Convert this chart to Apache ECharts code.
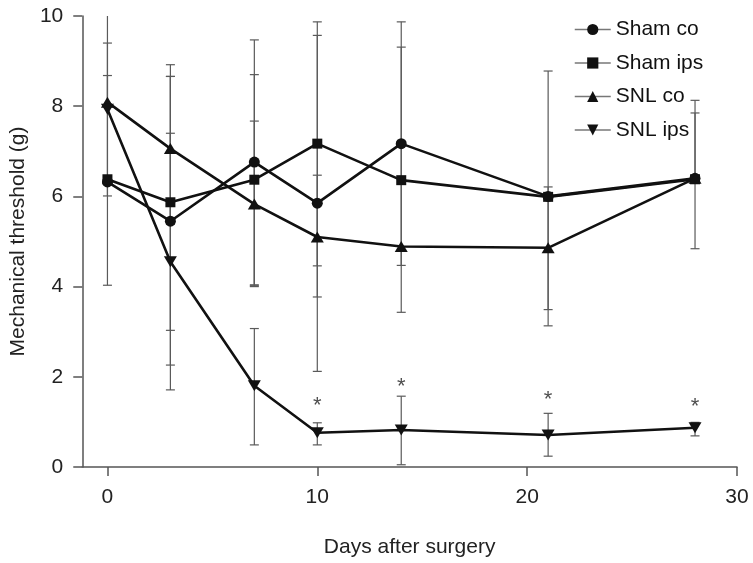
<!DOCTYPE html>
<html>
<head>
<meta charset="utf-8">
<script src="https://cdn.jsdelivr.net/npm/echarts@6/dist/echarts.min.js"></script>
<style>
html,body{margin:0;padding:0;background:#fff;}
#chart{width:753px;height:563px;}
</style>
</head>
<body>
<div id="chart"></div>
<script>
// ---- data ----
const days = [0, 3, 7, 10, 14, 21, 28];
const seriesNames = ['Sham co', 'Sham ips', 'SNL co', 'SNL ips'];

const shamCo  = [6.32, 5.45, 6.76, 5.85, 7.17, 6.00, 6.40];
const shamIps = [6.38, 5.87, 6.37, 7.17, 6.36, 5.99, 6.38];
const snlCo   = [8.09, 7.06, 5.83, 5.10, 4.89, 4.86, 6.40];
const snlIps  = [7.93, 4.55, 1.80, 0.76, 0.82, 0.71, 0.87];

// error bar ends (null = not visible in the reference)
const shamCoHi  = [8.68, 8.66, 9.47, 9.57, 9.87, null, 8.13];
const shamCoLo  = [4.03, 2.26, 4.02, 2.12, 4.47, null, null];
const shamIpsHi = [null, 8.66, 8.70, 9.87, 9.31, 8.78, 7.85];
const shamIpsLo = [null, 3.03, 4.04, 4.46, 3.43, 3.13, 4.84];
const snlCoHi   = [9.40, 8.92, 7.67, 6.47, null, 6.21, null];
const snlCoLo   = [null, 5.38, 4.00, 3.77, null, 3.49, null];
const snlIpsHi  = [10.3, 7.40, 3.07, 0.98, 1.57, 1.19, 0.99];
const snlIpsLo  = [6.01, 1.71, 0.49, 0.49, 0.05, 0.24, 0.69];

// significance marks
const starDays   = [10, 14, 21, 28];
const starValues = [1.44, 1.86, 1.57, 1.41];

const xTicks = [0, 10, 20, 30];
const yTicks = [0, 2, 4, 6, 8, 10];

// ---- chart ----
const FONT = "'Liberation Sans', Arial, sans-serif";
const means = [shamCo, shamIps, snlCo, snlIps];
const his = [shamCoHi, shamIpsHi, snlCoHi, snlIpsHi];
const los = [shamCoLo, shamIpsLo, snlCoLo, snlIpsLo];
const symbols = ['circle', 'rect', 'triangle', 'triangle'];
const symRot = [0, 0, 0, 180];
const symSizes = [11, 10, [13, 11], [13, 11]];

const errData = [];
means.forEach((m, s) => {
  days.forEach((d, i) => {
    if (his[s][i] == null && los[s][i] == null) return;
    errData.push([d, m[i], los[s][i], his[s][i]]);
  });
});

function renderErr(params, api) {
  const x = api.value(0), m = api.value(1);
  const lo = api.value(2), hi = api.value(3);
  const hasLo = lo != null && !isNaN(lo) && lo !== '-';
  const hasHi = hi != null && !isNaN(hi) && hi !== '-';
  const pM = api.coord([x, m]);
  const pLo = hasLo ? api.coord([x, lo]) : pM;
  const pHi = hasHi ? api.coord([x, hi]) : pM;
  const w = 4.5;
  const style = {stroke: '#5a5a5a', lineWidth: 1.2};
  const children = [{type: 'line', shape: {x1: pM[0], y1: pLo[1], x2: pM[0], y2: pHi[1]}, style}];
  if (hasLo) children.push({type: 'line', shape: {x1: pM[0] - w, y1: pLo[1], x2: pM[0] + w, y2: pLo[1]}, style});
  if (hasHi) children.push({type: 'line', shape: {x1: pM[0] - w, y1: pHi[1], x2: pM[0] + w, y2: pHi[1]}, style});
  return {type: 'group', children};
}

const series = [{
  type: 'custom',
  name: 'err',
  data: errData,
  renderItem: renderErr,
  clip: true,
  z: 1,
  encode: {x: 0, y: 1},
  silent: true
}];

seriesNames.forEach((n, s) => {
  series.push({
    type: 'line',
    name: n,
    data: days.map((d, i) => [d, means[s][i]]),
    symbol: symbols[s],
    symbolRotate: symRot[s],
    symbolSize: symSizes[s],
    showSymbol: true,
    lineStyle: {color: '#111', width: 2.6},
    itemStyle: {color: '#111'},
    z: 3 + s,
    animation: false
  });
});

series.push({
  type: 'scatter',
  name: 'stars',
  data: starDays.map((d, i) => [d, starValues[i]]),
  symbolSize: 0,
  z: 5,
  label: {
    show: true, position: 'inside', formatter: '*',
    fontFamily: FONT, fontSize: 22, color: '#222', offset: [0, 4]
  },
  silent: true
});

const option = {
  animation: false,
  backgroundColor: '#fff',
  grid: {left: 78, right: 16, top: 16, bottom: 96, containLabel: false},
  legend: {
    data: seriesNames,
    orient: 'vertical',
    left: 569, top: 14,
    itemWidth: 36, itemHeight: 14, itemGap: 12.5,
    lineStyle: {color: '#777', width: 1.5},
    textStyle: {fontFamily: FONT, fontSize: 21, color: '#111'}
  },
  xAxis: {
    type: 'value', min: -1.2, max: 30,
    splitLine: {show: false},
    axisLine: {onZero: false, lineStyle: {color: '#555', width: 1.5}},
    axisTick: {show: true, length: 9, customValues: xTicks, lineStyle: {color: '#555', width: 1.5}},
    axisLabel: {customValues: xTicks, fontFamily: FONT, fontSize: 21, color: '#222', margin: 20},
    name: 'Days after surgery',
    nameLocation: 'middle', nameGap: 70,
    nameTextStyle: {fontFamily: FONT, fontSize: 21, color: '#222'}
  },
  yAxis: {
    type: 'value', min: 0, max: 10, interval: 2,
    splitLine: {show: false},
    axisLine: {show: true, onZero: false, lineStyle: {color: '#555', width: 1.5}},
    axisTick: {show: true, length: 9, lineStyle: {color: '#555', width: 1.5}},
    axisLabel: {fontFamily: FONT, fontSize: 21, color: '#222', margin: 19},
    name: 'Mechanical threshold (g)',
    nameLocation: 'middle', nameGap: 52,
    nameTextStyle: {fontFamily: FONT, fontSize: 21, color: '#222'}
  },
  series
};

const chart = echarts.init(document.getElementById('chart'), null, {renderer: 'canvas'});
chart.setOption(option);
</script>
</body>
</html>
